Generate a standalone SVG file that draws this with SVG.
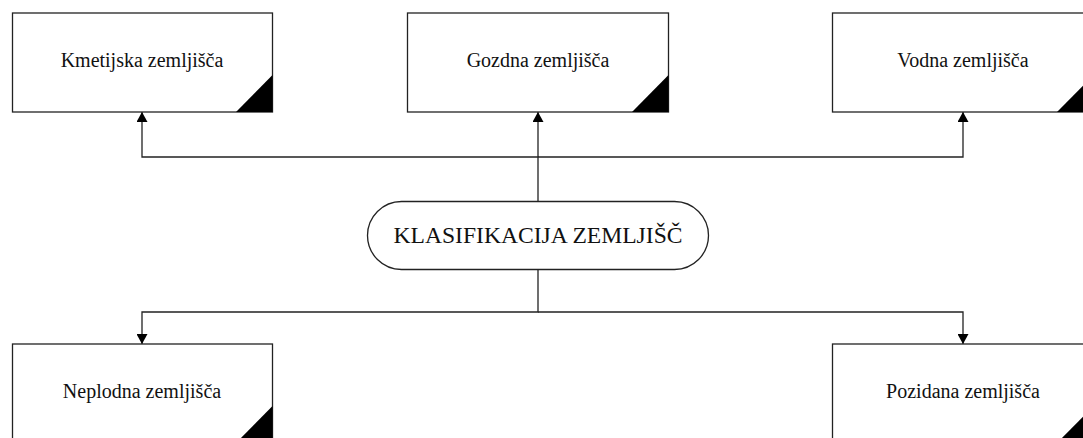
<svg xmlns="http://www.w3.org/2000/svg" width="1083" height="438" viewBox="0 0 1083 438">
  <style>
    .box { fill: #ffffff; stroke: #222222; stroke-width: 1.3; }
    .corner { fill: #000000; }
    .label { font-family: "Liberation Serif", "Times New Roman", serif; font-size: 20px; fill: #111111; text-anchor: middle; }
    .title { font-family: "Liberation Serif", "Times New Roman", serif; font-size: 23.6px; fill: #111111; text-anchor: middle; }
    .wire { fill: none; stroke: #222222; stroke-width: 1.3; }
  </style>
  <defs>
    <marker id="arrow" viewBox="0 0 10 11" refX="10" refY="5.5" markerWidth="10" markerHeight="11" markerUnits="userSpaceOnUse" orient="auto">
      <path d="M0,0 L10,5.5 L0,11 Z" fill="#000000"/>
    </marker>
  </defs>

  <rect width="1083" height="438" fill="#ffffff"/>

  <!-- connectors -->
  <g id="connectors">
    <path class="wire" d="M538,201 V157 H142 V112" marker-end="url(#arrow)"/>
    <path class="wire" d="M538,157 V112" marker-end="url(#arrow)"/>
    <path class="wire" d="M538,157 H963 V112" marker-end="url(#arrow)"/>
    <path class="wire" d="M538,269 V312 H142 V344" marker-end="url(#arrow)"/>
    <path class="wire" d="M538,312 H963 V344" marker-end="url(#arrow)"/>
  </g>

  <!-- root node -->
  <g id="klasifikacija">
    <rect class="box" x="367.5" y="201.5" width="341" height="68" rx="34" ry="34"/>
    <text class="title" x="538" y="243">KLASIFIKACIJA ZEMLJIŠČ</text>
  </g>

  <!-- top row -->
  <g id="kmetijska">
    <rect class="box" x="12.5" y="13" width="260" height="99"/>
    <path class="corner" d="M236,112 L272.5,75 V112 Z"/>
    <text class="label" x="142" y="67">Kmetijska zemljišča</text>
  </g>
  <g id="gozdna">
    <rect class="box" x="407.5" y="13" width="261" height="99"/>
    <path class="corner" d="M632,112 L668.5,75 V112 Z"/>
    <text class="label" x="538" y="67">Gozdna zemljišča</text>
  </g>
  <g id="vodna">
    <rect class="box" x="832.5" y="13" width="261" height="99"/>
    <path class="corner" d="M1057,112 L1093.5,75 V112 Z"/>
    <text class="label" x="963" y="67">Vodna zemljišča</text>
  </g>

  <!-- bottom row -->
  <g id="neplodna">
    <rect class="box" x="12.5" y="344" width="260" height="99"/>
    <path class="corner" d="M236,443 L272.5,406 V443 Z"/>
    <text class="label" x="142" y="398">Neplodna zemljišča</text>
  </g>
  <g id="pozidana">
    <rect class="box" x="832.5" y="344" width="261" height="99"/>
    <path class="corner" d="M1057,443 L1093.5,406 V443 Z"/>
    <text class="label" x="963" y="398">Pozidana zemljišča</text>
  </g>
</svg>
